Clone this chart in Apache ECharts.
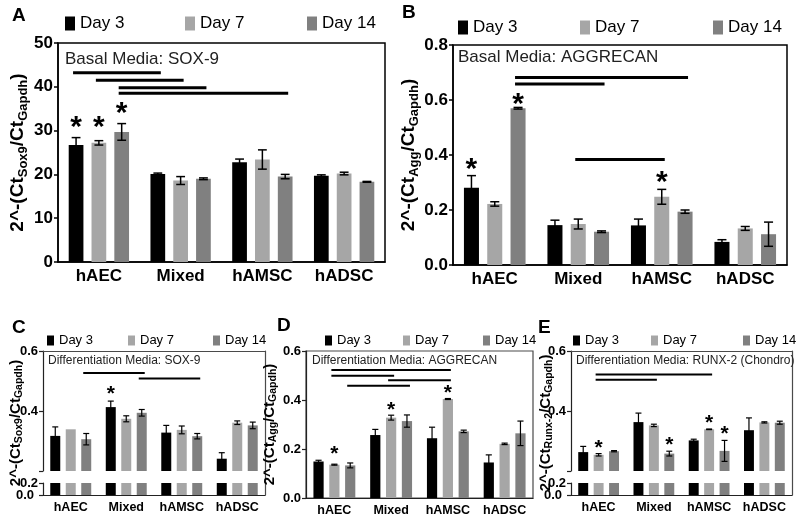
<!DOCTYPE html>
<html><head><meta charset="utf-8">
<script src="https://cdn.jsdelivr.net/npm/echarts@6/dist/echarts.min.js"></script>
<style>html,body{margin:0;padding:0;background:#fff}#c{width:800px;height:522px}</style>
</head><body><div id="c"></div>
<script>
// ---------------- DATA ----------------
const categories = ['hAEC', 'Mixed', 'hAMSC', 'hADSC'];
const days = ['Day 3', 'Day 7', 'Day 14'];

// Panel A – Basal Media: SOX-9
const A_day3  = [26.7, 20.1, 22.8, 19.7];
const A_day7  = [27.2, 18.6, 23.4, 20.2];
const A_day14 = [29.7, 19.0, 19.5, 18.3];
const A_err3  = [1.7, 0.2, 0.7, 0.2];
const A_err7  = [0.5, 0.9, 2.2, 0.3];
const A_err14 = [1.9, 0.2, 0.5, 0.1];
const A_stars = [[0, 0, 32.0], [0, 1, 32.0], [0, 2, 35.3]];            // [category, day, y]
const A_sig   = [[0, 0, 1, 0, 43.2], [0, 1, 1, 1, 41.5], [0, 2, 1, 2, 39.8], [0, 2, 2, 2, 38.5]]; // [cat1, day1, cat2, day2, y]
const A_ticks = [0, 10, 20, 30, 40, 50];

// Panel B – Basal Media: AGGRECAN
const B_day3  = [0.281, 0.145, 0.144, 0.084];
const B_day7  = [0.222, 0.149, 0.248, 0.133];
const B_day14 = [0.570, 0.121, 0.194, 0.112];
const B_err3  = [0.044, 0.018, 0.023, 0.008];
const B_err7  = [0.008, 0.018, 0.027, 0.007];
const B_err14 = [0.003, 0.003, 0.006, 0.044];
const B_stars = [[0, 0, 0.370], [0, 2, 0.606], [2, 1, 0.320]];
const B_sig   = [[0, 2, 2, 2, 0.682], [0, 2, 1, 2, 0.658], [1, 1, 2, 1, 0.384]];
const B_ticks = [0.0, 0.2, 0.4, 0.6, 0.8];

// Panel C – Differentiation Media: SOX-9 (broken axis)
const C_day3  = [0.317, 0.413, 0.328, 0.241];
const C_day7  = [0.339, 0.374, 0.337, 0.361];
const C_day14 = [0.306, 0.394, 0.316, 0.352];
const C_err3  = [0.030, 0.020, 0.024, 0.020];
const C_err7  = [0.000, 0.010, 0.013, 0.006];
const C_err14 = [0.019, 0.011, 0.009, 0.011];
const C_stars = [[1, 0, 0.469]];
const C_sig   = [[0, 2, 1, 2, 0.527], [1, 2, 2, 2, 0.508]];
const C_upperTicks = [0.2, 0.4, 0.6];
const C_lowerTicks = [0.0, 0.2];

// Panel D – Differentiation Media: AGGRECAN
const D_day3  = [0.149, 0.257, 0.244, 0.145];
const D_day7  = [0.136, 0.328, 0.404, 0.221];
const D_day14 = [0.133, 0.314, 0.272, 0.264];
const D_err3  = [0.005, 0.023, 0.045, 0.031];
const D_err7  = [0.002, 0.010, 0.002, 0.003];
const D_err14 = [0.010, 0.025, 0.005, 0.050];
const D_stars = [[0, 1, 0.196], [1, 1, 0.375], [2, 1, 0.446]];
const D_sig   = [[0, 1, 2, 1, 0.522], [0, 1, 1, 1, 0.499], [1, 1, 2, 1, 0.481], [0, 2, 1, 2, 0.458]];
const D_ticks = [0.0, 0.2, 0.4, 0.6];

// Panel E – Differentiation Media: RUNX-2 (Chondro) (broken axis)
const E_day3  = [0.263, 0.363, 0.302, 0.336];
const E_day7  = [0.254, 0.352, 0.339, 0.362];
const E_day14 = [0.266, 0.258, 0.267, 0.361];
const E_err3  = [0.019, 0.030, 0.004, 0.041];
const E_err7  = [0.004, 0.004, 0.001, 0.002];
const E_err14 = [0.002, 0.008, 0.035, 0.005];
const E_stars = [[0, 1, 0.291], [1, 2, 0.300], [2, 1, 0.374], [2, 2, 0.336]];
const E_sig   = [[0, 1, 2, 1, 0.522], [0, 1, 1, 1, 0.504]];
const E_upperTicks = [0.2, 0.4, 0.6];
const E_lowerTicks = [0.0, 0.2];

// ---------------- STYLE / LAYOUT ----------------
const FONT = '"Liberation Sans", Arial, Helvetica, sans-serif';
const COLORS = ['#000000', '#a6a6a6', '#808080'];
const BAR_W = 0.18, BAR_GAP = 0.55, STEP = BAR_W * (1 + BAR_GAP);

const panels = [
  { letter: 'A', label: 'Basal Media: SOX-9', sub: 'Sox9', values: [A_day3, A_day7, A_day14], errors: [A_err3, A_err7, A_err14],
    stars: A_stars, sig: A_sig, ticks: A_ticks, fmt: v => String(v),
    L: { big: true, left: 58, top: 43, width: 327, height: 219, legendX: [65, 185, 307], legendTop: 15,
         letter: [12, 6], labelPos: [65, 59], nameGap: 24 } },
  { letter: 'B', label: 'Basal Media: AGGRECAN', sub: 'Agg', values: [B_day3, B_day7, B_day14], errors: [B_err3, B_err7, B_err14],
    stars: B_stars, sig: B_sig, ticks: B_ticks, fmt: v => v.toFixed(1),
    L: { big: true, left: 453, top: 45, width: 334, height: 220, legendX: [458, 580, 713], legendTop: 19,
         letter: [402, 3], labelPos: [458, 57], nameGap: 31 } },
  { letter: 'C', label: 'Differentiation Media: SOX-9', sub: 'Sox9', values: [C_day3, C_day7, C_day14], errors: [C_err3, C_err7, C_err14],
    stars: C_stars, sig: C_sig, upperTicks: C_upperTicks, lowerTicks: C_lowerTicks, broken: true,
    L: { big: false, left: 43, top: 351, width: 222, upperH: 120, lowerTop: 483, lowerH: 12, legendX: [47, 128, 213], legendTop: 334,
         letter: [12, 318], labelPos: [48, 361], nameGap: 18 } },
  { letter: 'D', label: 'Differentiation Media: AGGRECAN', sub: 'Agg', values: [D_day3, D_day7, D_day14], errors: [D_err3, D_err7, D_err14],
    stars: D_stars, sig: D_sig, ticks: D_ticks, fmt: v => v.toFixed(1),
    L: { big: false, left: 306, top: 351, width: 227, height: 147, legendX: [325, 403, 483], legendTop: 334,
         letter: [277, 316], labelPos: [312, 361], nameGap: 16 } },
  { letter: 'E', label: 'Differentiation Media: RUNX-2 (Chondro)', sub: 'Runx-2', values: [E_day3, E_day7, E_day14], errors: [E_err3, E_err7, E_err14],
    stars: E_stars, sig: E_sig, upperTicks: E_upperTicks, lowerTicks: E_lowerTicks, broken: true,
    L: { big: false, left: 571, top: 351, width: 221, upperH: 120, lowerTop: 483, lowerH: 12, legendX: [573, 651, 743], legendTop: 334,
         letter: [538, 318], labelPos: [576, 361], nameGap: 16 } }
];

const option = { animation: false, textStyle: { fontFamily: FONT }, grid: [], xAxis: [], yAxis: [], series: [], legend: [], title: [], graphic: [] };

function sizes(big) {
  return big ? { tick: 17, cat: 17, name: 19, sub: 13, nameLH: 24, subLH: 14, legend: 17, label: 17, star: 30, lw: 3, axis: 1.5, errW: 1.5, iw: 10, ih: 14 }
             : { tick: 13, cat: 12.5, name: 15, sub: 10.5, nameLH: 19, subLH: 11, legend: 13, label: 12, star: 21, lw: 2, axis: 1.2, errW: 1.2, iw: 7, ih: 10 };
}

function nameOf(p) { return '2^-(Ct{s|' + p.sub + '}/Ct{s|Gapdh})'; }
function nameStyle(fs) {
  return { fontSize: fs.name, fontWeight: 'bold', color: '#000', fontFamily: FONT, lineHeight: fs.nameLH,
           rich: { s: { fontSize: fs.sub, fontWeight: 'bold', color: '#000', fontFamily: FONT, verticalAlign: 'bottom', lineHeight: fs.subLH } } };
}

panels.forEach(p => {
  const L = p.L, fs = sizes(L.big);
  const frameColor = L.big ? '#000' : '#4a4a4a';
  const axisColor = L.big ? '#000' : '#222';
  const catLabel = { interval: 0, fontSize: fs.cat, fontWeight: 'bold', color: '#000', margin: 6, fontFamily: FONT };
  const gMain = option.grid.length;
  const mainH = p.broken ? L.upperH : L.height;
  option.grid.push({ left: L.left, top: L.top, width: L.width, height: mainH,
                     show: !p.broken, borderColor: frameColor, borderWidth: fs.axis, backgroundColor: 'transparent' });
  const xi = option.xAxis.length;
  option.xAxis.push({ type: 'category', gridIndex: gMain, data: categories, show: !p.broken,
    axisLine: { lineStyle: { color: axisColor, width: fs.axis } },
    axisTick: { alignWithLabel: true, interval: 0, length: 4, lineStyle: { color: axisColor, width: fs.axis } },
    axisLabel: catLabel });
  const yi = option.yAxis.length;
  const tk = p.broken ? p.upperTicks : p.ticks;
  const yLabel = { fontSize: fs.tick, fontWeight: 'bold', color: '#000', margin: 5, fontFamily: FONT, hideOverlap: false,
                   formatter: p.broken ? (v => v.toFixed(1)) : p.fmt };
  if (p.broken) yLabel.customValues = tk.slice(1);   // the break point itself carries no label
  const yMain = { type: 'value', gridIndex: gMain, min: tk[0], max: tk[tk.length - 1], interval: tk[1] - tk[0],
    splitLine: { show: false },
    axisLine: { show: true, onZero: false, lineStyle: { color: axisColor, width: fs.axis } },
    axisTick: { show: true, length: 4, lineStyle: { color: axisColor, width: fs.axis } },
    axisLabel: yLabel };
  if (!p.broken) {
    Object.assign(yMain, { name: nameOf(p), nameLocation: 'middle', nameGap: L.nameGap, nameTextStyle: nameStyle(fs) });
  }
  option.yAxis.push(yMain);

  // bars
  for (let k = 0; k < 3; k++) {
    option.series.push({ type: 'bar', name: days[k], xAxisIndex: xi, yAxisIndex: yi, data: p.values[k],
      barWidth: (BAR_W * 100) + '%', barGap: (BAR_GAP * 100) + '%', itemStyle: { color: COLORS[k] }, silent: true, clip: true });
  }
  // error bars
  const errData = [];
  for (let k = 0; k < 3; k++) for (let i = 0; i < categories.length; i++) errData.push([i, p.values[k][i], p.errors[k][i], k]);
  option.series.push({ type: 'custom', xAxisIndex: xi, yAxisIndex: yi, data: errData, encode: { x: 0, y: 1 }, z: 5, silent: true,
    renderItem: (params, api) => {
      const c = api.value(0), v = api.value(1), e = api.value(2), d = api.value(3);
      if (e <= 0) return null;
      const bw = api.size([1, 0])[0];
      const t = api.coord([c, v + e]), b = api.coord([c, v - e]);
      const x = t[0] + (d - 1) * bw * STEP, hw = bw * BAR_W * 0.3;
      const st = { stroke: '#000', lineWidth: fs.errW };
      return { type: 'group', children: [
        { type: 'line', shape: { x1: x, y1: t[1], x2: x, y2: b[1] }, style: st },
        { type: 'line', shape: { x1: x - hw, y1: t[1], x2: x + hw, y2: t[1] }, style: st },
        { type: 'line', shape: { x1: x - hw, y1: b[1], x2: x + hw, y2: b[1] }, style: st } ] };
    } });
  // stars
  option.series.push({ type: 'custom', xAxisIndex: xi, yAxisIndex: yi, data: p.stars, encode: { x: 0, y: 2 }, z: 6, silent: true,
    renderItem: (params, api) => {
      const c = api.value(0), d = api.value(1), y = api.value(2);
      const bw = api.size([1, 0])[0];
      const pt = api.coord([c, y]);
      return { type: 'text', x: pt[0] + (d - 1) * bw * STEP, y: pt[1] + fs.star * 0.2,
        style: { text: '*', fontSize: fs.star, fontWeight: 'bold', fontFamily: FONT, fill: '#000', align: 'center', verticalAlign: 'middle' } };
    } });
  // significance lines
  option.series.push({ type: 'custom', xAxisIndex: xi, yAxisIndex: yi, data: p.sig, encode: { x: 0, y: 4 }, z: 6, silent: true,
    renderItem: (params, api) => {
      const c1 = api.value(0), d1 = api.value(1), c2 = api.value(2), d2 = api.value(3), y = api.value(4);
      const bw = api.size([1, 0])[0];
      const p1 = api.coord([c1, y]), p2 = api.coord([c2, y]);
      return { type: 'line', shape: { x1: p1[0] + (d1 - 1) * bw * STEP - 3, y1: p1[1], x2: p2[0] + (d2 - 1) * bw * STEP + 3, y2: p1[1] },
        style: { stroke: '#000', lineWidth: fs.lw } };
    } });

  if (p.broken) {
    // lower segment of the broken axis
    const gLow = option.grid.length;
    option.grid.push({ left: L.left, top: L.lowerTop, width: L.width, height: L.lowerH });
    const lt = p.lowerTicks;
    const lowMin = lt[0], lowMax = lt[lt.length - 1];
    const xl = option.xAxis.length;
    // the bottom tick label of the lower segment is carried by the x-axis name at its start
    // (axis-label overlap culling would otherwise drop one of the two tightly stacked labels)
    option.xAxis.push({ type: 'category', gridIndex: gLow, data: categories,
      axisLine: { lineStyle: { color: axisColor, width: fs.axis } },
      axisTick: { alignWithLabel: true, interval: 0, length: 4, lineStyle: { color: axisColor, width: fs.axis } },
      axisLabel: catLabel,
      name: lowMin.toFixed(1), nameLocation: 'start', nameGap: 9, nameMoveOverlap: false,
      nameTextStyle: { fontSize: fs.tick, fontWeight: 'bold', color: '#000', fontFamily: FONT, align: 'right', verticalAlign: 'middle' } });
    const yl = option.yAxis.length;
    option.yAxis.push({ type: 'value', gridIndex: gLow, min: lowMin, max: lowMax, interval: lt[1] - lt[0], splitLine: { show: false },
      axisLine: { show: true, onZero: false, lineStyle: { color: axisColor, width: fs.axis } },
      axisTick: { show: true, length: 4, lineStyle: { color: axisColor, width: fs.axis } },
      axisLabel: { fontSize: fs.tick, fontWeight: 'bold', color: '#000', margin: 5, fontFamily: FONT,
                   customValues: lt.slice(1), hideOverlap: false, formatter: v => v.toFixed(1) } });
    for (let k = 0; k < 3; k++) {
      option.series.push({ type: 'bar', name: days[k], xAxisIndex: xl, yAxisIndex: yl, data: p.values[k],
        barWidth: (BAR_W * 100) + '%', barGap: (BAR_GAP * 100) + '%', itemStyle: { color: COLORS[k] }, silent: true, clip: true });
    }
    // frame spanning both segments
    const gF = option.grid.length;
    option.grid.push({ left: L.left, top: L.top, width: L.width, height: L.lowerTop + L.lowerH - L.top });
    option.xAxis.push({ type: 'value', gridIndex: gF, position: 'top', min: 0, max: 1,
      axisLine: { show: true, onZero: false, lineStyle: { color: frameColor, width: fs.axis } },
      axisTick: { show: false }, axisLabel: { show: false }, splitLine: { show: false } });
    option.yAxis.push({ type: 'value', gridIndex: gF, position: 'left', min: 0, max: 1,
      axisLine: { show: false, onZero: false }, axisTick: { show: false }, axisLabel: { show: false }, splitLine: { show: false },
      name: nameOf(p), nameLocation: 'middle', nameGap: L.nameGap, nameTextStyle: nameStyle(fs) });
    option.yAxis.push({ type: 'value', gridIndex: gF, position: 'right', min: 0, max: 1,
      axisLine: { show: true, onZero: false, lineStyle: { color: frameColor, width: fs.axis } },
      axisTick: { show: false }, axisLabel: { show: false }, splitLine: { show: false } });
  }

  // legends (one per item for exact placement)
  for (let k = 0; k < 3; k++) {
    option.legend.push({ data: [days[k]], left: L.legendX[k], top: L.legendTop, padding: 0, icon: 'rect',
      itemWidth: fs.iw, itemHeight: fs.ih, itemGap: 0, selectedMode: false,
      textStyle: { fontSize: fs.legend, color: '#000', fontFamily: FONT } });
  }
  // panel letter
  option.title.push({ text: p.letter, left: L.letter[0], top: L.letter[1], padding: 0,
    textStyle: { fontSize: 19, fontWeight: 'bold', color: '#000', fontFamily: FONT } });
  // inner label
  option.graphic.push({ type: 'text', x: L.labelPos[0], y: L.labelPos[1], z: 10, silent: true,
    style: { text: p.label, fontSize: fs.label, fontFamily: FONT, fill: '#222', verticalAlign: 'middle', align: 'left' } });
});

const chart = echarts.init(document.getElementById('c'), null, { renderer: 'canvas' });
chart.setOption(option);
</script>
</body></html>
